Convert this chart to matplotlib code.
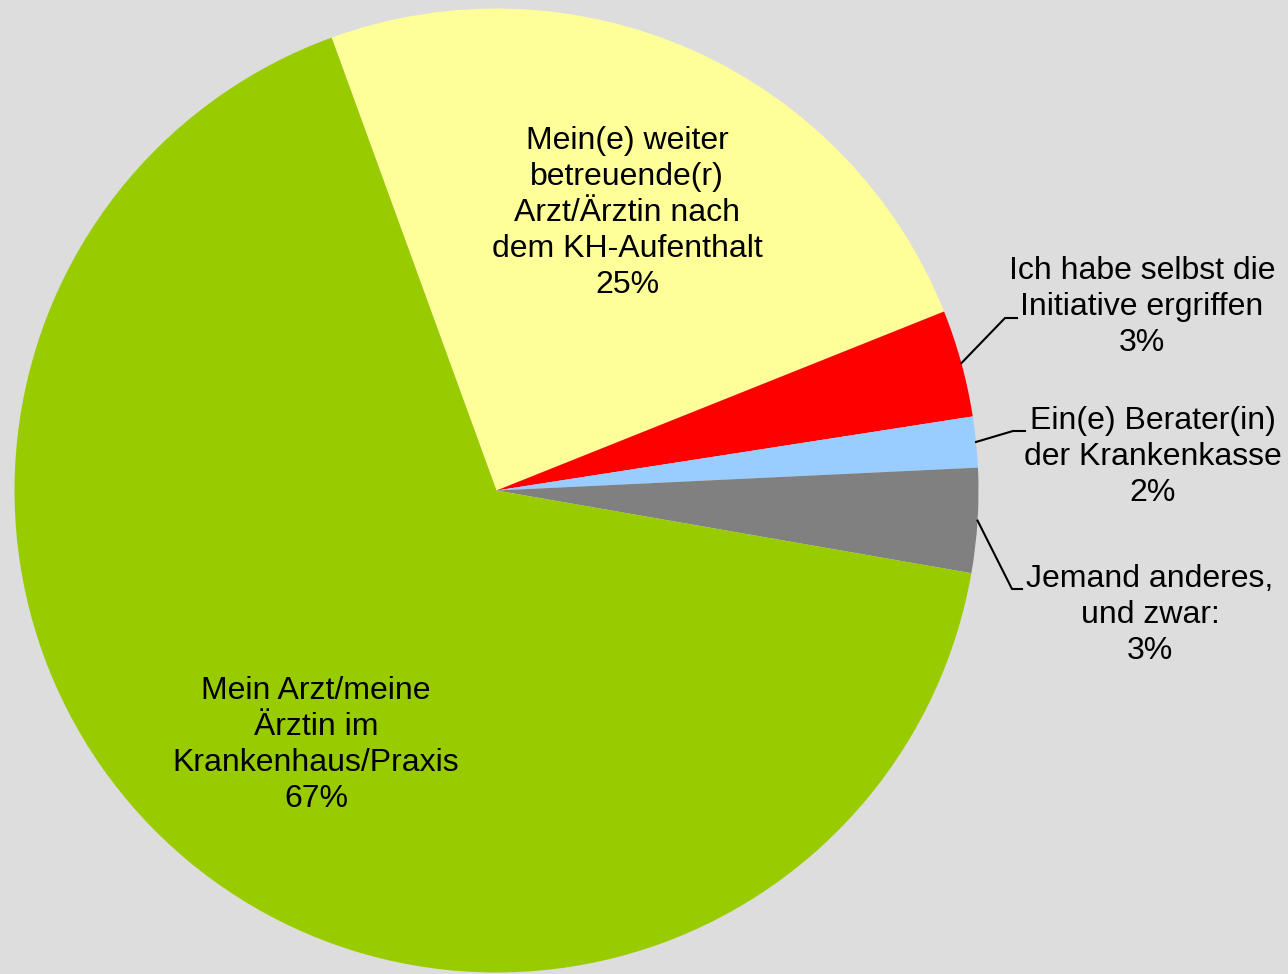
import numpy as np
import matplotlib.pyplot as plt

# data (share in percent, clockwise from the top)
categories = [
    'Mein(e) weiter\nbetreuende(r)\nArzt/Ärztin nach\ndem KH-Aufenthalt',
    'Ich habe selbst die\nInitiative ergriffen',
    'Ein(e) Berater(in)\nder Krankenkasse',
    'Jemand anderes,\nund zwar:',
    'Mein Arzt/meine\nÄrztin im\nKrankenhaus/Praxis',
]
shares = [24.5, 3.6, 1.7, 3.5, 66.7]
pct_labels = ['25%', '3%', '2%', '3%', '67%']
colors = ['#FFFF99', '#FF0000', '#99CCFF', '#808080', '#99CC00']

BG = '#DDDDDD'
W, H = 1288, 974
CX, CY, R = 496.5, H - 490.5, 482

plt.rcParams['font.family'] = ['Liberation Sans', 'DejaVu Sans']

fig = plt.figure(figsize=(W / 100, H / 100), dpi=100, facecolor=BG)
ax = fig.add_axes([0, 0, 1, 1])
ax.set_facecolor(BG)

wedges, _ = ax.pie(shares, colors=colors, startangle=110.0, counterclock=False,
                   center=(CX, CY), radius=R, frame=True,
                   wedgeprops=dict(linewidth=0))
ax.set_xlim(0, W)
ax.set_ylim(0, H)
ax.axis('off')

FS = 23
LS = 1.255

# labels inside the pie
inside = {0: (627, H - 213), 4: (316, H - 745)}
for i, (x, y) in inside.items():
    ax.text(x, y, categories[i] + '\n' + pct_labels[i], ha='center', va='center',
            fontsize=FS, linespacing=LS)

# outside labels with leader lines: (elbow, line end, text centre)
outside = {
    1: ((1005, H - 318), (1017, H - 318), (1142, H - 307)),
    2: ((1013, H - 431), (1025, H - 431), (1153, H - 457)),
    3: ((1012, H - 589), (1022, H - 589), (1150, H - 615)),
}
for i, (elbow, end, txt) in outside.items():
    w = wedges[i]
    mid = np.deg2rad((w.theta1 + w.theta2) / 2)
    sx, sy = CX + R * np.cos(mid), CY + R * np.sin(mid)
    ax.plot([sx, elbow[0], end[0]], [sy, elbow[1], end[1]], color='black', lw=1.5)
    ax.text(txt[0], txt[1], categories[i] + '\n' + pct_labels[i], ha='center', va='center',
            fontsize=FS, linespacing=LS)

fig.savefig('out.png', dpi=100, facecolor=BG)
